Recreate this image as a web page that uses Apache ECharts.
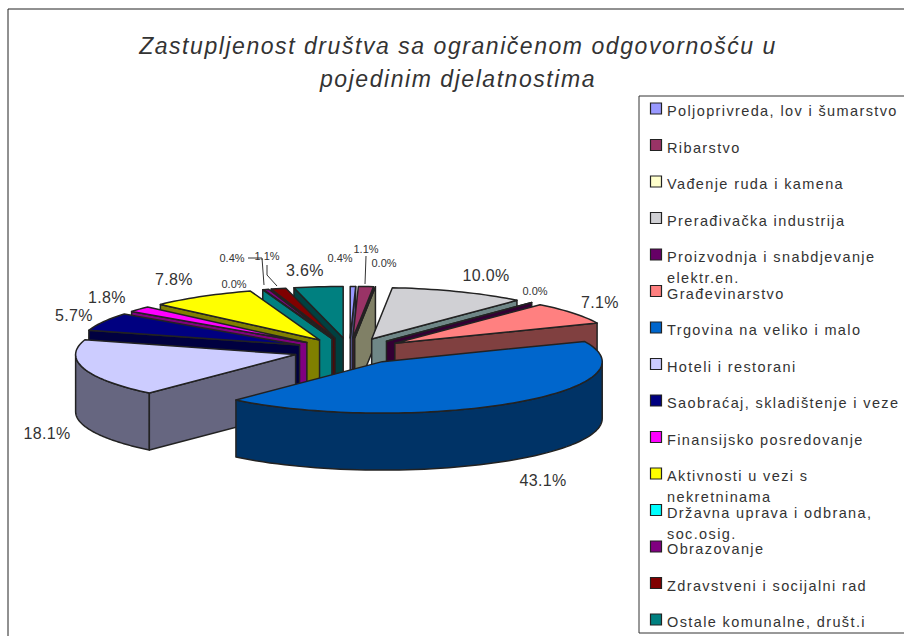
<!DOCTYPE html>
<html><head><meta charset="utf-8">
<style>
html,body{margin:0;padding:0;background:#fff}
#c{width:904px;height:636px}
#c text[style*="14.5px"]{letter-spacing:1.38px}
#c text[style*="23px"]{letter-spacing:1.55px}
#c text[style*="16px"]{letter-spacing:.35px}
</style>
<script src="https://cdn.jsdelivr.net/npm/echarts@6/dist/echarts.min.js"></script>
</head><body><div id="c"></div>
<script>
const titleText = 'Zastupljenost društva sa ograničenom odgovornošću u\npojedinim djelatnostima';
const categories = ['Poljoprivreda, lov i šumarstvo','Ribarstvo','Vađenje ruda i kamena','Prerađivačka industrija','Proizvodnja i snabdjevanje\nelektr.en.','Građevinarstvo','Trgovina na veliko i malo','Hoteli i restorani','Saobraćaj, skladištenje i veze','Finansijsko posredovanje','Aktivnosti u vezi s\nnekretninama','Državna uprava i odbrana,\nsoc.osig.','Obrazovanje','Zdravstveni i socijalni rad','Ostale komunalne, društ.i'];
const shares = [0.4,1.1,0.0,10.0,0.0,7.1,43.1,18.1,5.7,1.8,7.8,0.0,0.4,1.1,3.6];
const topColors = ['#9999FF','#993366','#FFFFCC','#D0D0D4','#660066','#FF8080','#0066CC','#CCCCFF','#000080','#FF00FF','#FFFF00','#00FFFF','#800080','#800000','#008080'];
const wallColors = ['#4D4D80','#4D1A33','#808066','#6F8787','#330033','#804040','#003366','#666680','#000040','#800080','#808000','#008080','#400040','#600000','#004040'];
const labelSizes = [11,11,11,16,11,16,16,16,16,16,16,11,11,11,16];
const labelCentres = [[340,258],[366,249],[384,263],[486,275],[535,291],[600,302],[543,480],[47,433],[74,315],[107,297],[174,279],[234,284],[232,258],[267,256],[305,270]];
const leaderLines = [[[366,256],[365,284]],[[248,258],[262,258],[264,285]],[[267,265],[267,275],[277,286]]];

const CX=349.5, CY=351, RX=220, K=51/218, EXPLODE=56, DEPTH=57;
const total = shares.reduce((a,b)=>a+b,0);
let run=0;
const spans = shares.map(v=>{const a=run/total*Math.PI*2; run+=v; return [a,run/total*Math.PI*2];});
const order = spans.map((s,i)=>[-Math.cos((s[0]+s[1])/2),i]).sort((p,q)=>p[0]-q[0]).map(p=>p[1]);
const rank = []; order.forEach((i,r)=>rank[i]=r);

function rim(apex,t){return [apex[0]+RX*Math.sin(t), apex[1]-RX*K*Math.cos(t)];}
const dn = p=>[p[0],p[1]+DEPTH];
const edge = {stroke:'#222',lineWidth:1.5,lineJoin:'round'};

function renderSlice(params,api){
  const i=params.dataIndex, v=api.value(0), s=spans[i], a=s[0], b=s[1], m=(a+b)/2;
  const apex=[CX+EXPLODE*Math.sin(m), CY-EXPLODE*K*Math.cos(m)];
  const kids=[], base=rank[i]*10;
  const poly=(pts,fill,z)=>kids.push({type:'polygon',z2:base+z,shape:{points:pts},style:Object.assign({fill},edge)});
  const steps=Math.max(1,Math.ceil((b-a)/0.03));
  const top=[apex];
  for(let j=0;j<=steps;j++) top.push(rim(apex,a+(b-a)*j/steps));
  const f0=Math.max(a,Math.PI/2), f1=Math.min(b,Math.PI*1.5);
  if(f1>f0){
    const upper=[];
    for(let j=0;j<=60;j++) upper.push(rim(apex,f0+(f1-f0)*j/60));
    poly(upper.concat(upper.slice().reverse().map(dn)),wallColors[i],1);
  }
  if(Math.sin(a)<-1e-6){const p=rim(apex,a); poly([apex,p,dn(p),dn(apex)],wallColors[i],2);}
  if(Math.sin(b)>1e-6){const p=rim(apex,b); poly([apex,p,dn(p),dn(apex)],wallColors[i],2);}
  poly(top,topColors[i],3);
  const lc=labelCentres[i];
  kids.push({type:'text',z2:900,style:{x:lc[0],y:lc[1],text:v.toFixed(1)+'%',fill:'#333',
    font:labelSizes[i]+'px "Liberation Sans"',align:'center',verticalAlign:'middle'}});
  return {type:'group',children:kids};
}

const graphics=[
  {type:'rect',shape:{x:8,y:9,width:960,height:700},style:{fill:'none',stroke:'#222',lineWidth:1},z:1},
  {type:'rect',shape:{x:639,y:96,width:300,height:537},style:{fill:'#fff',stroke:'#333',lineWidth:1},z:2}
];
categories.forEach((name,i)=>{
  const y=108.5+i*36.5;
  graphics.push({type:'rect',z:3,shape:{x:650.5,y:y-5.5,width:11,height:11},style:{fill:topColors[i],stroke:'#222',lineWidth:1.2}});
  graphics.push({type:'text',z:3,style:{x:667,y:y-8,text:name,fill:'#333',font:'14.5px "Liberation Sans"',lineHeight:21,align:'left',verticalAlign:'top'}});
});
leaderLines.forEach(pts=>graphics.push({type:'polyline',z:4,shape:{points:pts},style:{fill:'none',stroke:'#333',lineWidth:1}}));

const chart=echarts.init(document.getElementById('c'),null,{renderer:'svg'});
chart.setOption({
  animation:false,
  backgroundColor:'#fff',
  title:{text:titleText,left:453,top:24,textAlign:'center',
    textStyle:{fontFamily:'Liberation Sans',fontStyle:'italic',fontWeight:'normal',fontSize:23,lineHeight:33,color:'#333'}},
  graphic:graphics,
  series:[{type:'custom',coordinateSystem:'none',renderItem:renderSlice,
    data:shares.map((v,i)=>({value:[v],name:categories[i]}))}]
});
</script></body></html>
